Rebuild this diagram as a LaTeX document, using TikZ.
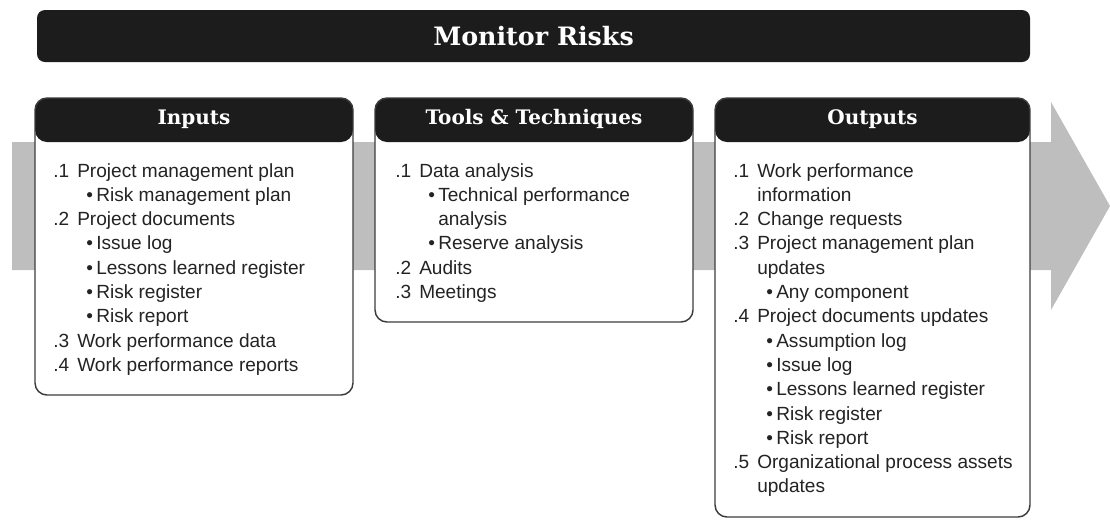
\documentclass[tikz,border=0pt]{standalone}
\usepackage{fontspec}
\setmainfont{Liberation Sans}
\newfontfamily\slabfont{DejaVu Serif}
\usepackage{xcolor}
\usepackage{tikz}
\usetikzlibrary{positioning}
\definecolor{flowgray}{RGB}{190,190,190}
\definecolor{barblack}{RGB}{28,28,28}
\definecolor{edgegray}{RGB}{60,60,60}
\definecolor{inkgray}{RGB}{35,35,35}
\newcommand{\linen}[2]{\makebox[18pt][l]{#1}#2}
\newcommand{\lineb}[2]{\hspace*{24.75pt}\makebox[7.5pt][l]{\textbullet}#2}
\newcommand{\linec}[2]{\hspace*{18pt}#2}
\newcommand{\lined}[2]{\hspace*{32.25pt}#2}

\begin{document}
\begin{tikzpicture}[x=0.75pt,y=-0.75pt,
  stagebox/.style={draw=edgegray,line width=1.1pt,fill=white,rounded corners=9pt,inner sep=0pt,
    path picture={\fill[barblack] (path picture bounding box.north west) rectangle ([yshift=-33pt]path picture bounding box.north east);}},
  headtxt/.style={text=white,font={\slabfont\bfseries\fontsize{15pt}{18pt}\selectfont}},
  listtxt/.style={anchor=base west,inner sep=0pt,text=inkgray,font={\fontsize{14.3pt}{18pt}\selectfont}}]
\useasboundingbox (0,0) rectangle (1110,519);
% flow arrow behind the boxes
\fill[flowgray] (12,142) -- (1051,142) -- (1051,102) -- (1110,206) -- (1051,310) -- (1051,270) -- (12,270) -- cycle;
% process title
\node[fill=barblack,rounded corners=6pt,minimum width=744.75pt,minimum height=39pt,inner sep=0pt] (title) at (533.5,36) {};
\node[text=white,font={\slabfont\bfseries\fontsize{19pt}{22pt}\selectfont}] (titletxt) at (title.center) {Monitor Risks};
% the three boxes
\node[stagebox,minimum width=238.5pt,minimum height=222.75pt] (inbox) at (194,246.5) {};
\node[stagebox,minimum width=238.5pt,minimum height=168pt] (toolbox) at (534,210) {};
\node[stagebox,minimum width=236.25pt,minimum height=314.25pt] (outbox) at (872.5,307.5) {};
\node[headtxt] (inhead) at ([yshift=-16.5pt]inbox.north) {Inputs};
\node[headtxt] (toolhead) at ([yshift=-16.5pt]toolbox.north) {Tools \& Techniques};
\node[headtxt] (outhead) at ([yshift=-16.5pt]outbox.north) {Outputs};
% lists
\foreach \k/\n/\t [count=\i from 0] in {n/.1/Project management plan,b//Risk management plan,n/.2/Project documents,
  b//Issue log,b//Lessons learned register,b//Risk register,b//Risk report,n/.3/Work performance data,n/.4/Work performance reports}
  \node[listtxt] (in-\i) at (53,177+24.3*\i) {\csname line\k\endcsname{\n}{\t}};
\foreach \k/\n/\t [count=\i from 0] in {n/.1/Data analysis,b//Technical performance,d//analysis,b//Reserve analysis,
  n/.2/Audits,n/.3/Meetings}
  \node[listtxt] (tool-\i) at (395,177+24.3*\i) {\csname line\k\endcsname{\n}{\t}};
\foreach \k/\n/\t [count=\i from 0] in {n/.1/Work performance,c//information,n/.2/Change requests,n/.3/Project management plan,
  c//updates,b//Any component,n/.4/Project documents updates,b//Assumption log,b//Issue log,b//Lessons learned register,
  b//Risk register,b//Risk report,n/.5/Organizational process assets,c//updates}
  \node[listtxt] (out-\i) at (733,177+24.3*\i) {\csname line\k\endcsname{\n}{\t}};
\end{tikzpicture}
\end{document}
